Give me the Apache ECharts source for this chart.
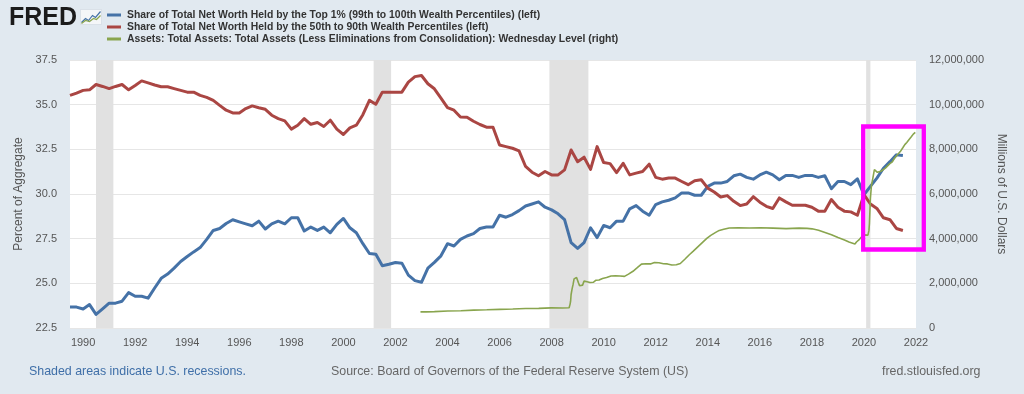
<!DOCTYPE html>
<html><head><meta charset="utf-8">
<script src="https://cdn.jsdelivr.net/npm/echarts@6/dist/echarts.min.js"></script>
<style>html,body{margin:0;padding:0;background:#e1e9f0}#c{width:1024px;height:394px}</style>
</head><body><div id="c"></div>
<script>
// ---------------- DATA ----------------
const firstQuarter = '1989-07-01';   // quarterly series start (1989Q3)
const seriesNames = [
  'Share of Total Net Worth Held by the Top 1% (99th to 100th Wealth Percentiles) (left)',
  'Share of Total Net Worth Held by the 50th to 90th Wealth Percentiles (left)',
  'Assets: Total Assets: Total Assets (Less Eliminations from Consolidation): Wednesday Level (right)'
];
const top1Share = [
  23.67,23.67,23.56,23.81,23.26,23.57,23.89,23.89,24.00,24.48,
  24.28,24.28,24.17,24.74,25.28,25.52,25.85,26.22,26.50,26.76,
  27.00,27.46,27.96,28.07,28.35,28.56,28.44,28.33,28.22,28.48,
  28.04,28.33,28.48,28.33,28.67,28.67,27.93,28.15,27.96,28.15,
  27.83,28.30,28.63,28.11,27.83,27.22,26.67,26.63,25.98,26.07,
  26.17,26.13,25.46,25.15,25.06,25.85,26.17,26.54,27.22,27.09,
  27.46,27.65,27.78,28.07,28.15,28.15,28.81,28.70,28.85,29.07,
  29.33,29.44,29.56,29.26,29.11,28.89,28.57,27.28,26.96,27.28,
  28.11,27.56,28.24,28.11,28.48,28.48,29.17,29.35,29.04,28.81,
  29.41,29.56,29.65,29.78,30.06,30.06,29.93,29.93,30.43,30.61,
  30.61,30.70,31.02,31.11,30.93,30.83,31.07,31.22,31.07,30.80,
  31.04,31.04,30.93,31.04,31.04,30.93,31.02,30.30,30.70,30.70,
  30.52,30.85,29.96,30.43,30.89,31.44,31.81,32.19,32.15
];
const mid50to90Share = [
  35.52,35.65,35.80,35.83,36.13,36.02,35.90,36.02,36.13,35.83,
  36.07,36.33,36.22,36.10,36.00,36.00,35.90,35.80,35.70,35.70,
  35.52,35.41,35.24,34.96,34.69,34.54,34.54,34.78,34.93,34.83,
  34.74,34.41,34.22,34.09,33.63,33.85,34.22,33.90,34.00,33.78,
  34.13,33.63,33.33,33.70,33.85,34.44,35.24,35.02,35.70,35.70,
  35.70,35.70,36.26,36.57,36.63,36.17,35.89,35.37,34.83,34.69,
  34.31,34.30,34.07,33.89,33.74,33.74,32.74,32.65,32.56,32.41,
  31.54,31.22,31.02,31.26,31.07,31.07,31.35,32.46,31.81,32.06,
  31.38,32.65,31.76,31.70,31.20,31.72,31.07,31.17,31.26,31.67,
  30.93,30.83,30.89,30.89,30.70,30.52,30.74,30.80,30.33,30.11,
  29.83,29.91,29.59,29.35,29.44,29.85,29.54,29.31,29.19,29.78,
  29.56,29.37,29.37,29.37,29.26,29.04,29.04,29.69,29.26,29.04,
  29.00,28.81,29.96,29.44,29.19,28.67,28.56,28.07,27.96
];
const fedAssetDates = [
  '2002-12-18','2003-03-05','2003-07-02','2004-01-07','2004-07-07','2005-01-05','2005-07-06','2006-01-04',
  '2006-07-05','2007-01-03','2007-07-04','2007-12-26','2008-01-02','2008-01-16','2008-06-04','2008-09-03',
  '2008-09-17','2008-09-24','2008-10-01','2008-10-15','2008-10-29','2008-11-12','2008-11-26','2008-12-17',
  '2008-12-31','2009-01-14','2009-01-28','2009-02-18','2009-03-11','2009-04-01','2009-04-22','2009-05-13',
  '2009-06-03','2009-06-24','2009-07-15','2009-08-12','2009-09-16','2009-10-28','2009-12-16','2010-02-10',
  '2010-04-14','2010-06-16','2010-08-18','2010-10-20','2010-12-15','2011-02-16','2011-04-13','2011-06-15',
  '2011-08-17','2011-10-19','2011-12-14','2012-02-15','2012-04-18','2012-06-13','2012-08-15','2012-10-17',
  '2012-12-12','2013-02-13','2013-04-17','2013-06-12','2013-08-14','2013-10-16','2013-12-18','2014-02-12',
  '2014-04-16','2014-06-11','2014-08-13','2014-10-29','2015-03-04','2015-08-05','2016-01-06','2016-07-06',
  '2017-01-04','2017-07-05','2017-10-25','2018-01-03','2018-04-04','2018-07-04','2018-10-03','2019-01-02',
  '2019-04-03','2019-06-05','2019-08-28','2019-09-18','2019-10-30','2019-12-25','2020-02-26','2020-03-11',
  '2020-03-18','2020-03-25','2020-04-01','2020-04-15','2020-05-06','2020-05-27','2020-06-10','2020-06-24',
  '2020-07-08','2020-07-29','2020-08-26','2020-09-23','2020-10-28','2020-11-25','2020-12-30','2021-02-03',
  '2021-03-03','2021-03-31','2021-04-28','2021-05-26','2021-06-30','2021-07-28','2021-08-25','2021-09-29',
  '2021-10-27','2021-11-24','2021-12-22'
];
const fedAssetValues = [
  720000,724000,735000,760000,775000,800000,815000,835000,
  850000,870000,880000,900000,915000,880000,895000,905000,
  1070000,1200000,1500000,1750000,1950000,2200000,2150000,2260000,
  2240000,2010000,1890000,1850000,1920000,2100000,2120000,2070000,
  2090000,2040000,1990000,2050000,2140000,2150000,2220000,2260000,
  2330000,2340000,2330000,2310000,2410000,2540000,2690000,2860000,
  2880000,2870000,2930000,2920000,2880000,2870000,2820000,2830000,
  2890000,3080000,3280000,3440000,3630000,3820000,4010000,4150000,
  4270000,4370000,4420000,4480000,4490000,4480000,4490000,4470000,
  4450000,4470000,4460000,4440000,4380000,4280000,4180000,4050000,
  3940000,3850000,3760000,3850000,3970000,4170000,4160000,4360000,
  4670000,5250000,5810000,6370000,6720000,7090000,7170000,7090000,
  6970000,6960000,7020000,7060000,7160000,7240000,7360000,7440000,
  7590000,7700000,7780000,7900000,8070000,8210000,8310000,8450000,
  8560000,8680000,8760000
];
const recessions = [
  ['1990-07-01','1991-03-01'],
  ['2001-03-01','2001-11-01'],
  ['2007-12-01','2009-06-01'],
  ['2020-02-01','2020-04-01']
];
const yearTicks = [1990,1992,1994,1996,1998,2000,2002,2004,2006,2008,2010,2012,2014,2016,2018,2020,2022];

// ---------------- HELPERS ----------------
function decYear(s){
  const [y,m,d] = s.split('-').map(Number);
  const t0 = Date.UTC(y,0,1), t1 = Date.UTC(y+1,0,1);
  return y + (Date.UTC(y,m-1,d) - t0)/(t1 - t0);
}
function quarterDate(k){
  const [y,m] = firstQuarter.split('-').map(Number);
  const mm = (m-1) + 3*k;
  const yy = y + Math.floor(mm/12), m2 = mm%12 + 1;
  return yy + '-' + String(m2).padStart(2,'0') + '-01';
}
const qx = top1Share.map((_,k)=>decYear(quarterDate(k)));
const FF = '"Liberation Sans",Arial,Helvetica,sans-serif';
const TXT = '#555555';

const chart = echarts.init(document.getElementById('c'), null, {renderer:'canvas'});
chart.setOption({
  backgroundColor:'#e1e9f0',
  animation:false,
  textStyle:{fontFamily:FF},
  grid:{left:70,right:108,top:60,bottom:66,backgroundColor:'#ffffff',show:true,borderWidth:0,outerBoundsMode:'none'},
  legend:{
    orient:'vertical', left:107, top:10, itemWidth:14, itemHeight:3, itemGap:2, icon:'rect',
    padding:0, selectedMode:false,
    textStyle:{fontFamily:FF,fontSize:10.4,fontWeight:'bold',color:'#333333',lineHeight:10,padding:[0,0,0,1]},
    data:seriesNames
  },
  xAxis:{
    type:'value', min:decYear('1989-07-01'), max:2022,
    axisLine:{show:false}, axisTick:{show:false}, splitLine:{show:false},
    axisLabel:{customValues:yearTicks, formatter:v=>String(Math.round(v)), color:TXT, fontSize:11, margin:9, fontFamily:FF}
  },
  yAxis:[
    {type:'value', min:22.5, max:37.5, interval:2.5, position:'left',
     name:'Percent of Aggregate', nameLocation:'middle', nameRotate:90, nameGap:45,
     nameTextStyle:{color:TXT,fontSize:12,fontFamily:FF},
     axisLine:{show:false}, axisTick:{show:false},
     splitLine:{lineStyle:{color:'#e6e6e6',width:1}},
     axisLabel:{formatter:v=>v.toFixed(1), color:TXT, fontSize:11, margin:13, fontFamily:FF}},
    {type:'value', min:0, max:12000000, interval:2000000, position:'right',
     name:'Millions of U.S. Dollars', nameLocation:'middle', nameRotate:-90, nameGap:68,
     nameTextStyle:{color:TXT,fontSize:12,fontFamily:FF},
     axisLine:{show:false}, axisTick:{show:false}, splitLine:{show:false},
     axisLabel:{formatter:v=>v.toLocaleString('en-US'), color:TXT, fontSize:11, margin:13, fontFamily:FF}}
  ],
  series:[
    {name:'recessions', type:'line', data:[], z:1, silent:true,
     markArea:{silent:true, itemStyle:{color:'#e1e1e1'},
       data:recessions.map(r=>[{xAxis:decYear(r[0])},{xAxis:decYear(r[1])}])}},
    {name:seriesNames[0], type:'line', yAxisIndex:0, z:3, showSymbol:false, symbol:'none',
     color:'#4572a7', lineStyle:{width:3,color:'#4572a7',join:'round'},
     data:top1Share.map((v,k)=>[qx[k],v])},
    {name:seriesNames[1], type:'line', yAxisIndex:0, z:3, showSymbol:false, symbol:'none',
     color:'#aa4643', lineStyle:{width:3,color:'#aa4643',join:'round'},
     data:mid50to90Share.map((v,k)=>[qx[k],v])},
    {name:seriesNames[2], type:'line', yAxisIndex:1, z:4, showSymbol:false, symbol:'none',
     color:'#89a54e', lineStyle:{width:1.6,color:'#89a54e'},
     data:fedAssetValues.map((v,k)=>[decYear(fedAssetDates[k]),v])}
  ],
  graphic:[
    {type:'text', left:9, top:6, style:{text:'FRED', font:'bold 25px "Liberation Sans", Arial, sans-serif', fill:'#1b1b1b'}},
    {type:'group', left:79, top:9, children:[
      {type:'rect', shape:{x:0,y:0,width:21,height:15}, style:{fill:'#f4f6f8', stroke:'#c9d3dc', lineWidth:0.5}},
      {type:'polyline', shape:{points:[[1,13],[5,9],[8,11],[12,6],[15,8],[20,2]]}, style:{stroke:'#4572a7', lineWidth:1.2, fill:null}},
      {type:'polyline', shape:{points:[[1,14],[5,11],[9,12],[13,9],[16,10],[20,6]]}, style:{stroke:'#89a54e', lineWidth:1.2, fill:null}}
    ]},
    {type:'text', left:29, top:366, style:{text:'Shaded areas indicate U.S. recessions.', font:'12.4px '+FF, fill:'#3f6fa8'}},
    {type:'text', left:331, top:366, style:{text:'Source: Board of Governors of the Federal Reserve System (US)', font:'12.4px '+FF, fill:'#666666'}},
    {type:'text', left:882, top:366, style:{text:'fred.stlouisfed.org', font:'12.4px '+FF, fill:'#666666'}},
    {type:'rect', z:100, shape:{x:863.2,y:126.5,width:60.6,height:123}, style:{fill:null, stroke:'#ff00ff', lineWidth:4.3}}
  ]
});
</script></body></html>
